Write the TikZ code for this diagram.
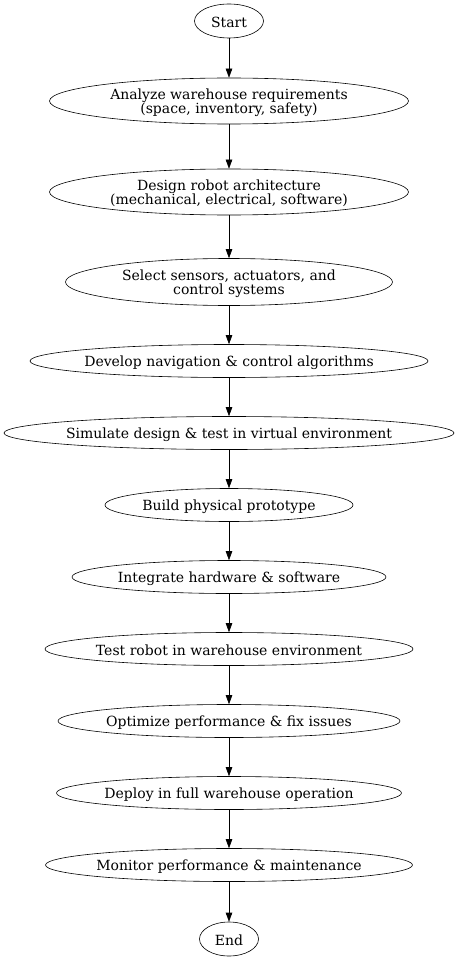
\documentclass[tikz,border=0pt]{standalone}
\usepackage{fontspec}
\setmainfont{DejaVu Serif}
\usetikzlibrary{shapes.geometric,arrows.meta}
\begin{document}
\begin{tikzpicture}[x=1pt,y=-1pt,
  shell/.style={draw,ellipse,inner sep=0pt,line width=0.6pt},
  label/.style={inner sep=0pt,align=center,font=\fontsize{14}{14}\selectfont},
  conn/.style={-{Triangle[length=9pt,width=6.5pt]},line width=0.6pt}]
\useasboundingbox (0,0) rectangle (458,960);
\foreach \n/\y/\w/\h/\t in {
  n0/21/69/34/{Start},
  n1/101/359/46/{Analyze warehouse requirements\\(space, inventory, safety)},
  n2/192/359/46/{Design robot architecture\\(mechanical, electrical, software)},
  n3/282/327/47/{Select sensors, actuators, and\\control systems},
  n4/361/398/33/{Develop navigation \& control algorithms},
  n5/433/450/33/{Simulate design \& test in virtual environment},
  n6/505/248/33/{Build physical prototype},
  n7/577/314/33/{Integrate hardware \& software},
  n8/649/368/33/{Test robot in warehouse environment},
  n9/721/342/33/{Optimize performance \& fix issues},
  n10/793/345/33/{Deploy in full warehouse operation},
  n11/865/367/33/{Monitor performance \& maintenance},
  n12/939/59/34/{End}}{
  \node[shell,minimum width=\w,minimum height=\h] (\n) at (229,\y) {};
  \node[label,yshift=-1.5pt] (t\n) at (\n.center) {\t};
}
\foreach \a/\b in {n0/n1,n1/n2,n2/n3,n3/n4,n4/n5,n5/n6,n6/n7,n7/n8,n8/n9,n9/n10,n10/n11,n11/n12}
  \draw[conn] (\a) -- (\b);
\end{tikzpicture}
\end{document}
